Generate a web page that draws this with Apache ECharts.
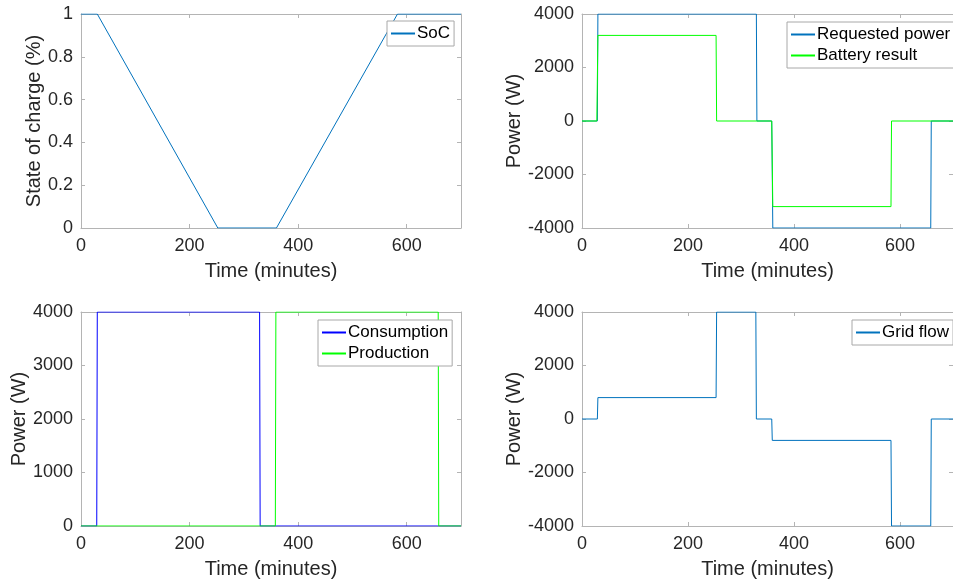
<!DOCTYPE html>
<html>
<head>
<meta charset="utf-8">
<script src="https://cdn.jsdelivr.net/npm/echarts@6/dist/echarts.min.js"></script>
<style>
html,body{margin:0;padding:0;background:#fff;}
#chart{width:953px;height:583px;}
</style>
</head>
<body>
<div id="chart"></div>
<script>
// ---- Data (time in minutes) ----
const socTime = [0, 30, 252, 360, 583, 700];
const socValues = [1, 1, 0, 0, 1, 1];

const requestedTime = [0, 29, 30, 329, 330, 358, 360, 658, 659, 700];
const requestedValues = [0, 0, 4000, 4000, 0, 0, -4000, -4000, 0, 0];

const batteryTime = [0, 28, 30, 253, 254, 358, 360, 583, 584, 700];
const batteryValues = [0, 0, 3200, 3200, 0, 0, -3200, -3200, 0, 0];

const consumptionTime = [0, 29, 30, 329, 330, 700];
const consumptionValues = [0, 0, 4000, 4000, 0, 0];

const productionTime = [0, 358, 359, 658, 659, 700];
const productionValues = [0, 0, 4000, 4000, 0, 0];

const gridTime = [0, 29, 30, 253, 254, 328, 329, 358, 359, 583, 584, 658, 659, 700];
const gridValues = [0, 0, 800, 800, 4000, 4000, 0, 0, -800, -800, -4000, -4000, 0, 0];

const xTicks = [0, 200, 400, 600];
const socTicks = [0, 0.2, 0.4, 0.6, 0.8, 1];
const powerTicksSym = [-4000, -2000, 0, 2000, 4000];
const powerTicksPos = [0, 1000, 2000, 3000, 4000];

function pairs(t, v) { return t.map((x, i) => [x, v[i]]); }

const AXIS_COLOR = '#b4b4b4';
const TEXT_COLOR = '#262626';
const FONT = 'Liberation Sans, Arial, Helvetica, sans-serif';

const COLORS = {
  'SoC': '#0072BD',
  'Requested power': '#0072BD',
  'Battery result': '#00FF00',
  'Consumption': '#0000FF',
  'Production': '#00FF00',
  'Grid flow': '#0072BD'
};

const grids = [
  {left: 81, top: 14, width: 380, height: 214},
  {left: 582, top: 14, width: 379, height: 214},
  {left: 81, top: 312, width: 380, height: 214},
  {left: 582, top: 312, width: 379, height: 214}
];

const plainFmt = v => String(v);

const xAxes = [], yAxes = [];
function addAxes(gi, yTicks, yName, yGap) {
  const yMin = yTicks[0], yMax = yTicks[yTicks.length - 1];
  const yInt = yTicks[1] - yTicks[0];
  const base = {
    gridIndex: gi,
    axisLine: {show: true, onZero: false, lineStyle: {color: AXIS_COLOR, width: 1}},
    axisTick: {show: true, inside: true, length: 4, lineStyle: {color: AXIS_COLOR}},
    splitLine: {show: false}
  };
  xAxes.push(Object.assign({}, base, {
    type: 'value', position: 'bottom', min: 0, max: 700, interval: xTicks[1] - xTicks[0],
    name: 'Time (minutes)', nameLocation: 'middle', nameGap: 33,
    nameTextStyle: {fontSize: 20, color: TEXT_COLOR, fontFamily: FONT},
    axisLabel: {show: true, fontSize: 18, color: TEXT_COLOR, fontFamily: FONT, margin: 9, showMaxLabel: false, formatter: plainFmt}
  }));
  xAxes.push(Object.assign({}, base, {
    type: 'value', position: 'top', min: 0, max: 700, interval: xTicks[1] - xTicks[0],
    axisLabel: {show: false}
  }));
  yAxes.push(Object.assign({}, base, {
    type: 'value', position: 'left', min: yMin, max: yMax, interval: yInt,
    name: yName, nameLocation: 'middle', nameGap: yGap,
    nameTextStyle: {fontSize: 20, color: TEXT_COLOR, fontFamily: FONT},
    axisLabel: {show: true, fontSize: 18, color: TEXT_COLOR, fontFamily: FONT, margin: 8, formatter: plainFmt}
  }));
  yAxes.push(Object.assign({}, base, {
    type: 'value', position: 'right', min: yMin, max: yMax, interval: yInt,
    axisLabel: {show: false}
  }));
}
addAxes(0, socTicks, 'State of charge (%)', 36);
addAxes(1, powerTicksSym, 'Power (W)', 58);
addAxes(2, powerTicksPos, 'Power (W)', 52);
addAxes(3, powerTicksSym, 'Power (W)', 58);

function line(name, t, v, gi) {
  const color = COLORS[name];
  return {
    name: name, type: 'line', data: pairs(t, v),
    xAxisIndex: gi * 2, yAxisIndex: gi * 2,
    symbol: 'none', showSymbol: false,
    color: color,
    lineStyle: {color: color, width: 1}, itemStyle: {color: color},
    animation: false
  };
}

const series = [
  line('SoC', socTime, socValues, 0),
  line('Requested power', requestedTime, requestedValues, 1),
  line('Battery result', batteryTime, batteryValues, 1),
  line('Consumption', consumptionTime, consumptionValues, 2),
  line('Production', productionTime, productionValues, 2),
  line('Grid flow', gridTime, gridValues, 3)
];

function legend(names, left, top) {
  return {
    data: names.map(n => ({
      name: n, icon: 'rect',
      itemStyle: {color: COLORS[n], borderWidth: 0, opacity: 1}
    })),
    left: left, top: top, orient: 'vertical',
    backgroundColor: '#fff', borderColor: '#a8a8a8', borderWidth: 1,
    padding: [4, 4, 4, 4], itemGap: 4, itemWidth: 24, itemHeight: 2,
    textStyle: {fontSize: 17, color: '#000', fontFamily: FONT, padding: [0, 0, 0, -3]},
    selectedMode: false
  };
}

const option = {
  backgroundColor: '#fff',
  animation: false,
  grid: grids,
  xAxis: xAxes,
  yAxis: yAxes,
  legend: [
    legend(['SoC'], 387, 21),
    legend(['Requested power', 'Battery result'], 787, 22),
    legend(['Consumption', 'Production'], 318, 320),
    legend(['Grid flow'], 852, 320)
  ],
  series: series
};

const chart = echarts.init(document.getElementById('chart'), null, {renderer: 'canvas'});
chart.setOption(option);
</script>
</body>
</html>
